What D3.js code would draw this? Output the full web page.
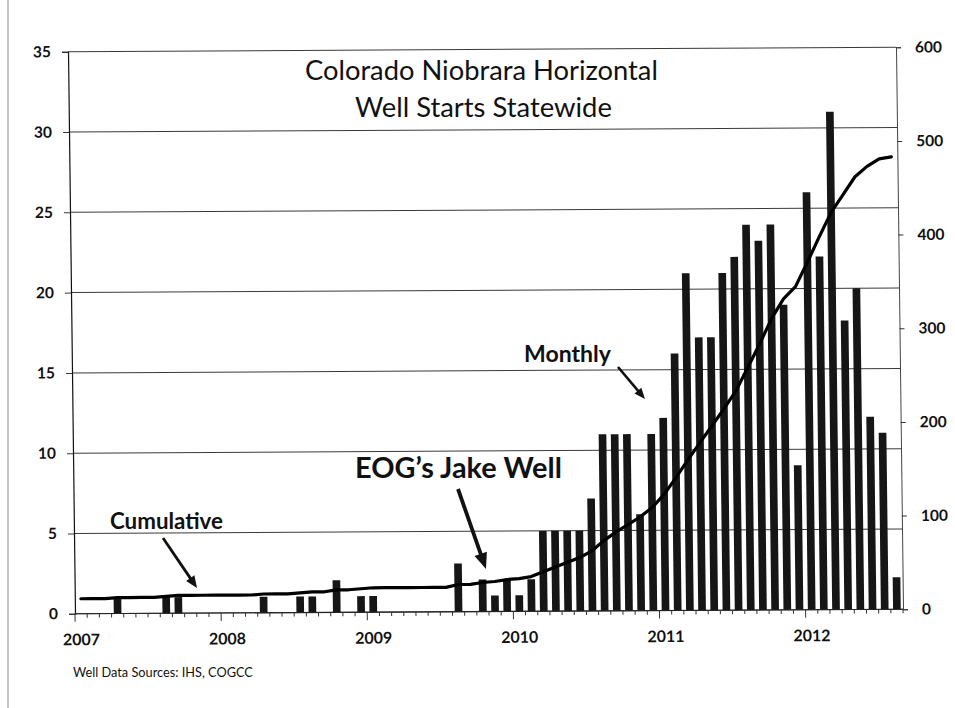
<!DOCTYPE html>
<html><head><meta charset="utf-8">
<script src="https://cdn.jsdelivr.net/npm/d3@7"></script>
<style>html,body{margin:0;padding:0;background:#fff;} svg{display:block}</style>
</head><body>
<svg id="chart" width="955" height="708"></svg>
<script>
// ---------- data ----------
const titleLines = ["Colorado Niobrara Horizontal", "Well Starts Statewide"];
const months = d3.timeMonth.range(new Date(2007, 0, 1), new Date(2012, 8, 1)); // Jan 2007 .. Aug 2012
const monthly = [0,0,0,1,0,0,0,1,1,0, 0,0,0,0,0,1,0,0,1,1, 0,2,0,1,1,0,0,0,0,0,
                 0,3,0,2,1,2,1,2,5,5, 5,5,7,11,11,11,6,11,12,16, 21,17,17,21,22,24,23,24,19,9,
                 26,22,31,18,20,12,11,2];
const cumulative = [16,16,16,17,17,17,17,18,19,19, 19,19,19,19,19,20,20,20,21,22,
                    22,24,24,25,26,26,26,26,26,26, 26,29,29,31,32,34,35,37,42,47,
                    52,57,64,75,84,92,100,110,124,142, 161,179,197,215,234,259,284,311,332,345,
                    371,398,424,443,462,473,481,483];
const leftTicks = [0,5,10,15,20,25,30,35];
const rightTicks = [0,100,200,300,400,500,600];
const yearLabels = ["2007","2008","2009","2010","2011","2012"];
const calloutTexts = ["Monthly", "EOG\u2019s Jake Well", "Cumulative"];
const sourceNote = "Well Data Sources: IHS, COGCC";

// ---------- layout ----------
const svg = d3.select("#chart");
const X0 = 71.5, X1 = 899.5, Y0 = 49.5, Y1 = 611.5;
const sx = 0.01246, sy = -0.00543, cx = 485.5, cy = 330.5; // scan skew
const FONT = "Lato, 'Open Sans', sans-serif";

svg.append("line").attr("x1", 8).attr("x2", 8).attr("y1", 0).attr("y2", 708)
  .attr("stroke", "#8a8a8a").attr("stroke-width", 1);

const g = svg.append("g")
  .attr("transform", `matrix(1,${sy},${sx},1,${-sx*cy},${-sy*cx})`);

const x = d3.scaleBand().domain(d3.range(months.length)).range([X0, X1])
  .paddingInner(0.37).paddingOuter(0.185);
const yL = d3.scaleLinear().domain([0, 35]).range([Y1, Y0]);
const yR = d3.scaleLinear().domain([0, 600]).range([Y1, Y0]);

// gridlines
g.append("g").selectAll("line").data(leftTicks).join("line")
  .attr("x1", X0).attr("x2", X1)
  .attr("y1", d => yL(d)).attr("y2", d => yL(d))
  .attr("stroke", "#3a3a3a").attr("stroke-width", 1);

// left axis
const la = g.append("g").attr("transform", `translate(${X0},0)`)
  .call(d3.axisLeft(yL).tickValues(leftTicks).tickSize(6).tickPadding(11));
la.select(".domain").attr("stroke", "#111").attr("stroke-width", 1.2);
la.selectAll(".tick line").attr("stroke", "#3a3a3a");
la.selectAll("text").attr("font-family", FONT).attr("font-weight", 700)
  .attr("font-size", 15.5).attr("fill", "#111");

// right axis
const ra = g.append("g").attr("transform", `translate(${X1},0)`)
  .call(d3.axisRight(yR).tickValues(rightTicks).tickSize(5).tickPadding(14));
ra.select(".domain").attr("stroke", "#444").attr("stroke-width", 1);
ra.selectAll(".tick line").attr("stroke", "#333");
ra.selectAll("text").attr("font-family", FONT).attr("font-weight", 700)
  .attr("font-size", 15.5).attr("fill", "#111");

// bars
g.append("g").selectAll("rect").data(monthly).join("rect")
  .attr("x", (d, i) => x(i)).attr("width", x.bandwidth())
  .attr("y", d => yL(d)).attr("height", d => Y1 - yL(d))
  .attr("fill", "#161616");

// x axis baseline + month ticks
g.append("line").attr("x1", X0).attr("x2", X1).attr("y1", Y1).attr("y2", Y1)
  .attr("stroke", "#222").attr("stroke-width", 1.2);
const step = x.step();
g.append("g").selectAll("line").data(d3.range(months.length + 1)).join("line")
  .attr("x1", i => X0 + i * step).attr("x2", i => X0 + i * step)
  .attr("y1", Y1).attr("y2", i => Y1 + (i % 12 === 0 ? 8 : 4))
  .attr("stroke", "#333").attr("stroke-width", 1);

// year labels
g.append("g").selectAll("text").data(yearLabels).join("text")
  .attr("x", (d, k) => x(k * 12) + x.bandwidth() / 2)
  .attr("y", 643).attr("text-anchor", "middle")
  .attr("font-family", FONT).attr("font-weight", 700).attr("font-size", 16)
  .attr("fill", "#111").text(d => d);

// cumulative line
const line = d3.line().x((d, i) => x(i) + x.bandwidth() / 2).y(d => yR(d));
g.append("path").datum(cumulative).attr("d", line)
  .attr("fill", "none").attr("stroke", "#000").attr("stroke-width", 3.2)
  .attr("stroke-linejoin", "round").attr("stroke-linecap", "round");

// ---------- annotations (image coordinates) ----------
function fitText(sel, target) {
  const fs = +sel.attr("font-size");
  const w = sel.node().getComputedTextLength();
  sel.attr("font-size", fs * target / w);
}
function addText(txt, xLeft, baseline, width, fs, weight) {
  const t = svg.append("text").attr("x", xLeft).attr("y", baseline)
    .attr("font-family", FONT).attr("font-weight", weight).attr("font-size", fs)
    .attr("fill", "#111").text(txt);
  fitText(t, width);
  return t;
}
addText(titleLines[0], 305, 80, 353, 21, 400);
addText(titleLines[1], 355, 117, 257, 21, 400);
addText(calloutTexts[0], 524, 362, 87, 18, 700);
addText(calloutTexts[1], 355, 478, 207, 28, 700);
addText(calloutTexts[2], 110, 529, 113, 19, 700);
addText(sourceNote, 73, 677, 180, 11, 400);

function arrow(x1, y1, x2, y2, sw, hl, hw) {
  const a = Math.atan2(y2 - y1, x2 - x1), c = Math.cos(a), s = Math.sin(a);
  const bx = x2 - hl * c, by = y2 - hl * s;
  svg.append("line").attr("x1", x1).attr("y1", y1).attr("x2", bx + c).attr("y2", by + s)
    .attr("stroke", "#111").attr("stroke-width", sw);
  svg.append("path")
    .attr("d", `M${x2},${y2}L${bx - hw / 2 * s},${by + hw / 2 * c}L${bx + hw / 2 * s},${by - hw / 2 * c}Z`)
    .attr("fill", "#111");
}
arrow(618, 367, 645, 399, 2.6, 11, 9);
arrow(458, 489, 486, 569, 3.8, 16, 13);
arrow(163, 538, 197, 588, 2.8, 12, 10);
</script>
</body></html>
